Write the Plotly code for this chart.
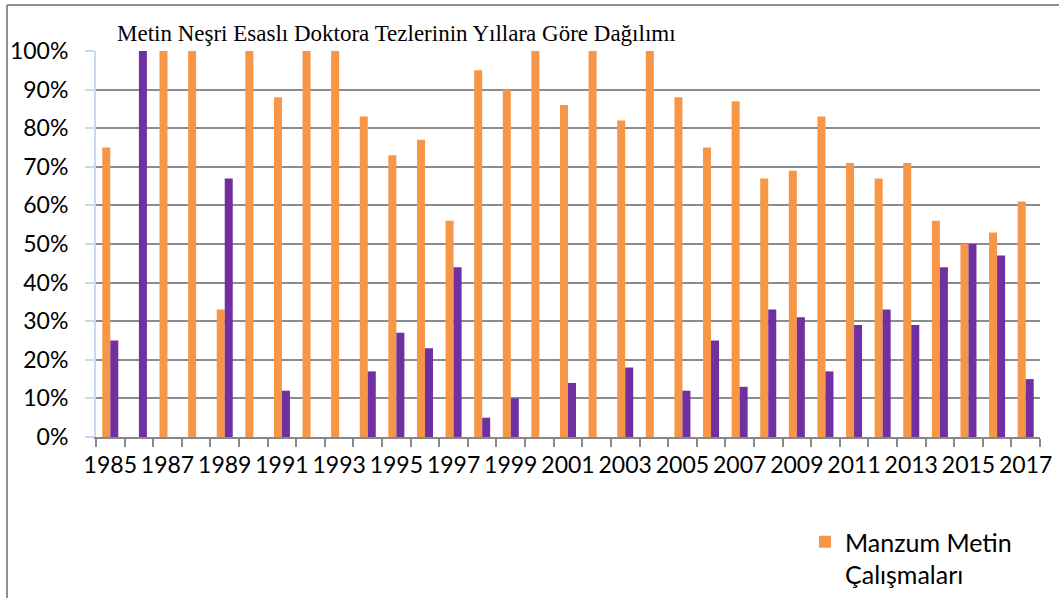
import plotly.graph_objects as go

years = list(range(1985, 2018))
manzum = [75, 0, 100, 100, 33, 100, 88, 100, 100, 83, 73, 77, 56, 95, 90, 100,
          86, 100, 82, 100, 88, 75, 87, 67, 69, 83, 71, 67, 71, 56, 50, 53, 61]
mensur = [25, 100, 0, 0, 67, 0, 12, 0, 0, 17, 27, 23, 44, 5, 10, 0,
          14, 0, 18, 0, 12, 25, 13, 33, 31, 17, 29, 33, 29, 44, 50, 47, 15]
tick_years = list(range(1985, 2018, 2))
y_ticks = list(range(0, 101, 10))

title_text = "Metin Neşri Esaslı Doktora Tezlerinin Yıllara Göre Dağılımı"
name1 = "Manzum Metin<br>Çalışmaları"
name2 = "Mensur Metin<br>Çalışmaları"

W, H = 1059, 598
L, R, T, B = 96, 19, 51, 161
pw, ph = W - L - R, H - T - B

def px_x(p):
    return (p - L) / pw

def px_y(p):
    return (H - B - p) / ph

fig = go.Figure()
fig.add_trace(go.Bar(x=years, y=manzum, name=name1,
                     marker=dict(color="#F79646", line=dict(width=0))))
fig.add_trace(go.Bar(x=years, y=mensur, name=name2, showlegend=False,
                     marker=dict(color="#7030A0", line=dict(width=0))))

fig.update_layout(
    width=W, height=H,
    margin=dict(l=L, r=R, t=T, b=B, pad=0, autoexpand=False),
    paper_bgcolor="white", plot_bgcolor="white",
    barmode="group", bargap=0.44, bargroupgap=0,
    font=dict(family="Lato", size=22, color="#000000"),
    showlegend=True,
    legend=dict(x=px_x(805), y=px_y(519), xanchor="left", yanchor="top",
                font=dict(family="Lato", size=25, color="#000000"),
                valign="top", bgcolor="rgba(0,0,0,0)", borderwidth=0),
    xaxis=dict(range=[1984.5, 2017.5], tickmode="array", tickvals=tick_years,
               ticktext=[str(y) for y in tick_years], ticks="", showgrid=False,
               showline=True, linecolor="#888888", linewidth=2, zeroline=False,
               tickfont=dict(family="Lato", size=23), ticklabelstandoff=6,
               minor=dict(tickmode="linear", tick0=1984.5, dtick=1, ticks="outside",
                          ticklen=8, tickwidth=2, tickcolor="#888888", showgrid=False)),
    yaxis=dict(range=[0, 100], tickmode="array", tickvals=y_ticks,
               ticktext=[f"{v}%" for v in y_ticks], ticks="outside", ticklen=9,
               tickwidth=2, tickcolor="#C9D8F0", showline=True, linecolor="#C9D8F0",
               linewidth=2, showgrid=True, gridcolor="#8C8C8C", gridwidth=2,
               zeroline=False, tickfont=dict(family="Lato", size=23),
               ticklabelstandoff=12),
    annotations=[dict(text=title_text, xref="paper", yref="paper",
                      x=px_x(396.5), y=px_y(33), xanchor="center", yanchor="middle",
                      showarrow=False,
                      font=dict(family="Liberation Serif", size=23, color="#000000"))],
    shapes=[
        dict(type="line", xref="paper", yref="paper", x0=px_x(7), x1=px_x(1070),
             y0=px_y(5), y1=px_y(5), line=dict(color="#8E8E8E", width=2)),
        dict(type="line", xref="paper", yref="paper", x0=px_x(7), x1=px_x(7),
             y0=px_y(5), y1=px_y(610), line=dict(color="#8E8E8E", width=2)),
    ],
)

fig.write_html("out.html", config={"displayModeBar": False},
               post_script="document.body.style.margin='0';document.body.style.overflow='hidden';")
